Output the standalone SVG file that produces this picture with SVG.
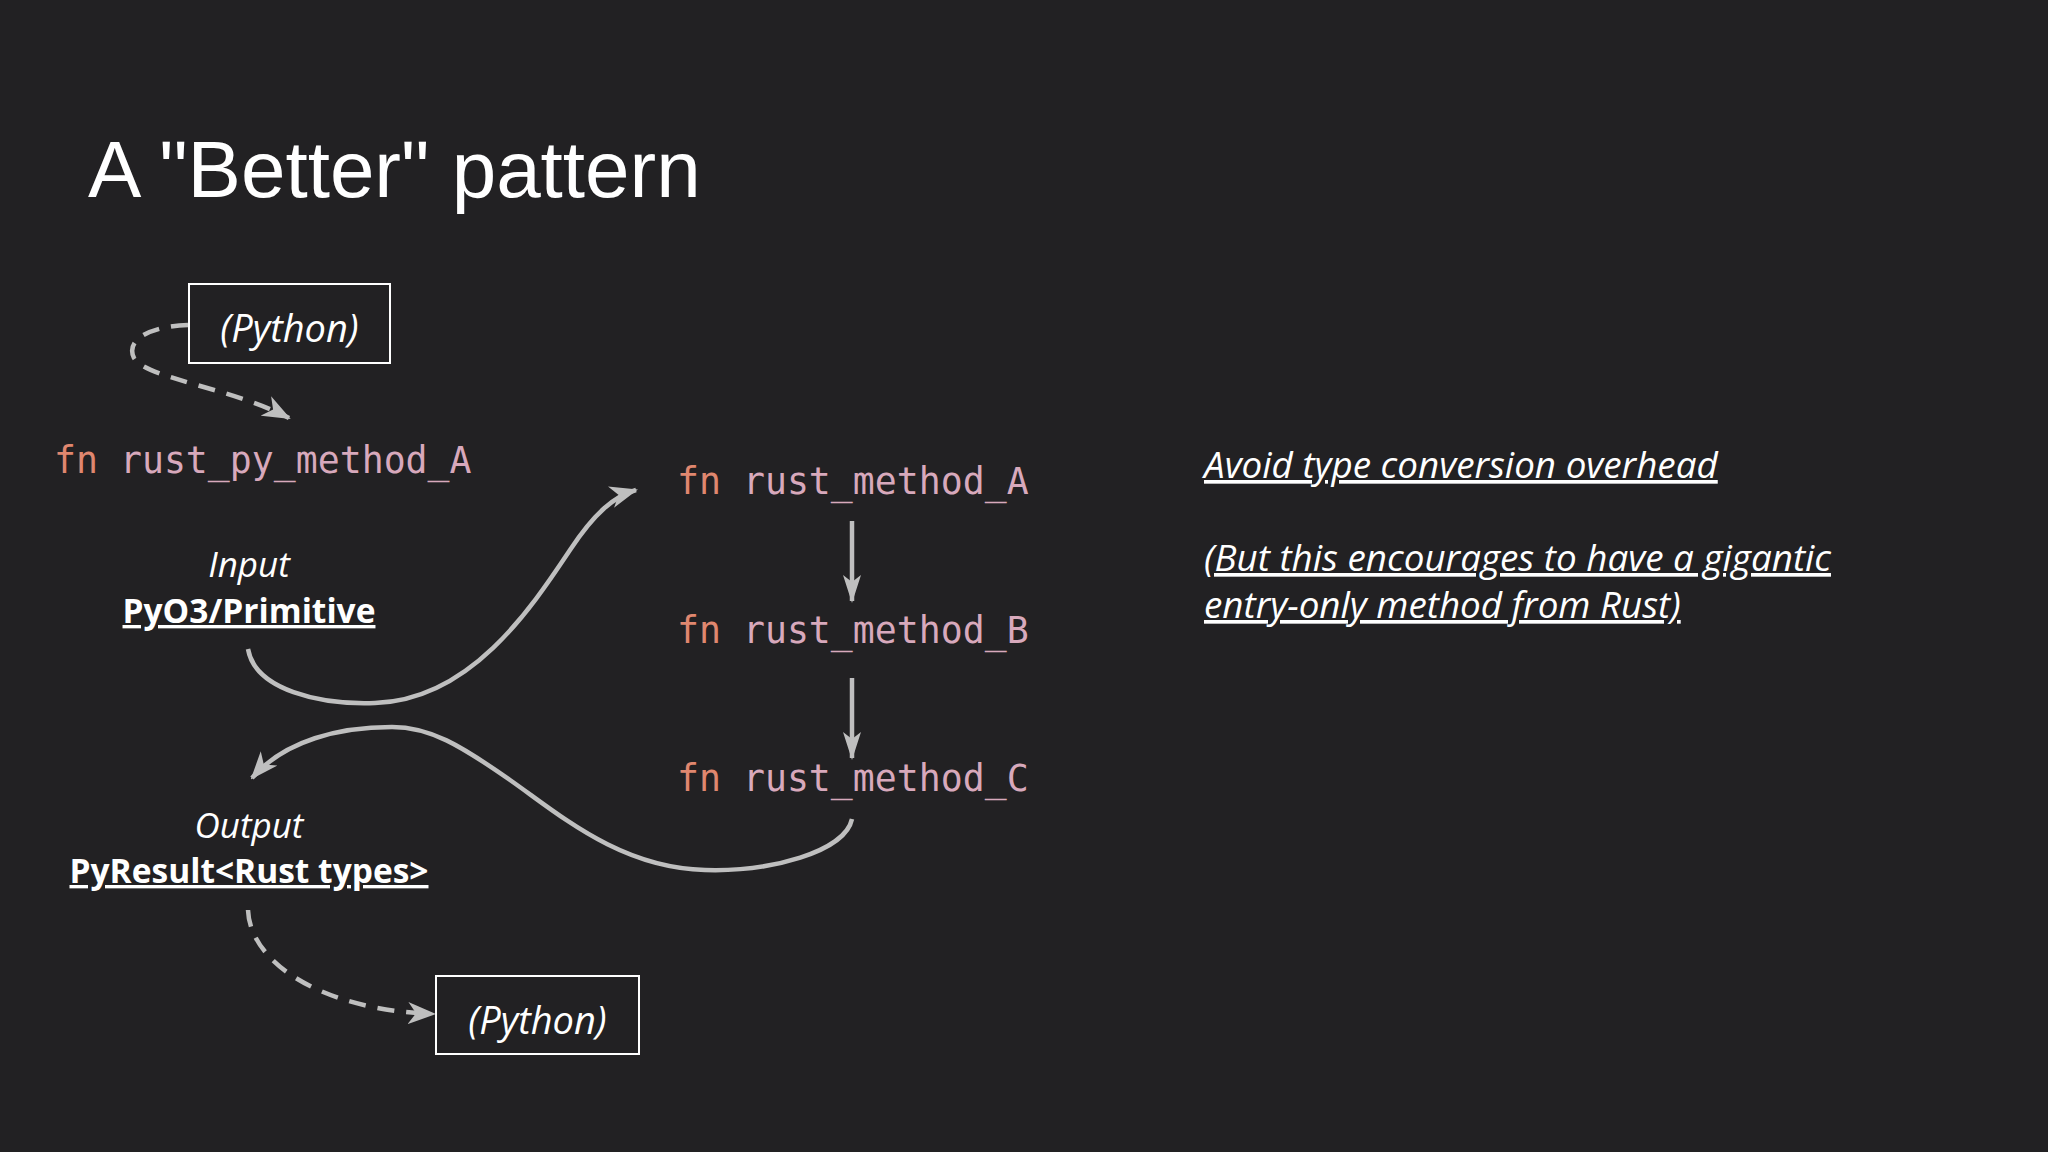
<svg xmlns="http://www.w3.org/2000/svg" width="2048" height="1152" viewBox="0 0 2048 1152">
  <defs>
    <style>
      .title { font-family: "Liberation Sans", Arial, sans-serif; font-size: 80px; fill: #ffffff; }
      .code { font-family: "DejaVu Sans Mono", "Liberation Mono", monospace; font-size: 36.5px; fill: #d8a9bc; }
      .kw { fill: #e0876f; }
      .ital { font-family: "Open Sans", "Noto Sans", sans-serif; font-style: italic; font-size: 35px; fill: #ffffff; }
      .py { font-size: 38px; }
      .bold { font-family: "Open Sans", "Noto Sans", sans-serif; font-weight: bold; font-size: 33.5px; fill: #ffffff; text-decoration: underline; }
      .note { font-family: "Open Sans", "Noto Sans", sans-serif; font-style: italic; font-size: 36.8px; fill: #ffffff; text-decoration: underline; }
      .box { fill: none; stroke: #ffffff; stroke-width: 2; }
      .conn { fill: none; stroke: #bfbfbf; stroke-width: 4.5; }
      .dash { stroke-dasharray: 17 12; }
    </style>
    <marker id="stealth" viewBox="0 0 28 22" refX="26" refY="11" markerWidth="28" markerHeight="22" markerUnits="userSpaceOnUse" orient="auto">
      <path d="M0,0 L28,11 L0,22 L8,11 Z" fill="#bfbfbf"/>
    </marker>
    <marker id="narrow" viewBox="0 0 28 18" refX="26" refY="9" markerWidth="28" markerHeight="18" markerUnits="userSpaceOnUse" orient="auto">
      <path d="M0,0 L28,9 L0,18 L7,9 Z" fill="#bfbfbf"/>
    </marker>
  </defs>
  <rect width="2048" height="1152" fill="#222123"/>

  <text class="title" x="88" y="197">A "Better" pattern</text>

  <g id="connectors">
    <path class="conn dash" d="M188,325 C150,326 125,340 134,358 C145,378 232,388 289,418" marker-end="url(#stealth)"/>
    <path class="conn" d="M248,649 C255,690 320,705 375,703 C470,700 530,610 570,550 C595,512 615,496 636,490" marker-end="url(#stealth)"/>
    <line class="conn" x1="852" y1="521" x2="852" y2="601" marker-end="url(#narrow)"/>
    <line class="conn" x1="852" y1="678" x2="852" y2="758" marker-end="url(#narrow)"/>
    <path class="conn" d="M852,819 C845,852 770,872 705,870 C620,868 560,815 510,780 C460,745 430,727 392,727 C340,727 285,740 252,778" marker-end="url(#stealth)"/>
    <path class="conn dash" d="M248,910 C250,962 320,1010 434,1014" marker-end="url(#stealth)"/>
  </g>

  <g id="python-top">
    <rect class="box" x="189" y="284" width="201" height="79"/>
    <text class="ital py" x="289.5" y="342" text-anchor="middle">(Python)</text>
  </g>

  <g id="rust-py-method-a">
    <text class="code" x="54" y="473"><tspan class="kw">fn</tspan> rust_py_method_A</text>
  </g>

  <g id="input">
    <text class="ital" x="249" y="577" text-anchor="middle">Input</text>
    <text class="bold" x="249" y="623" text-anchor="middle">PyO3/Primitive</text>
  </g>

  <g id="output">
    <text class="ital" x="249" y="838" text-anchor="middle">Output</text>
    <text class="bold" x="249" y="883" text-anchor="middle">PyResult&lt;Rust types&gt;</text>
  </g>

  <g id="rust-method-a">
    <text class="code" x="677" y="494"><tspan class="kw">fn</tspan> rust_method_A</text>
  </g>
  <g id="rust-method-b">
    <text class="code" x="677" y="643"><tspan class="kw">fn</tspan> rust_method_B</text>
  </g>
  <g id="rust-method-c">
    <text class="code" x="677" y="791"><tspan class="kw">fn</tspan> rust_method_C</text>
  </g>

  <g id="python-bottom">
    <rect class="box" x="436" y="976" width="203" height="78"/>
    <text class="ital py" x="537.5" y="1034" text-anchor="middle">(Python)</text>
  </g>

  <g id="notes">
    <text class="note" x="1204" y="478">Avoid type conversion overhead</text>
    <text class="note" x="1204" y="571">(But this encourages to have a gigantic</text>
    <text class="note" x="1204" y="618">entry-only method from Rust)</text>
  </g>
</svg>
